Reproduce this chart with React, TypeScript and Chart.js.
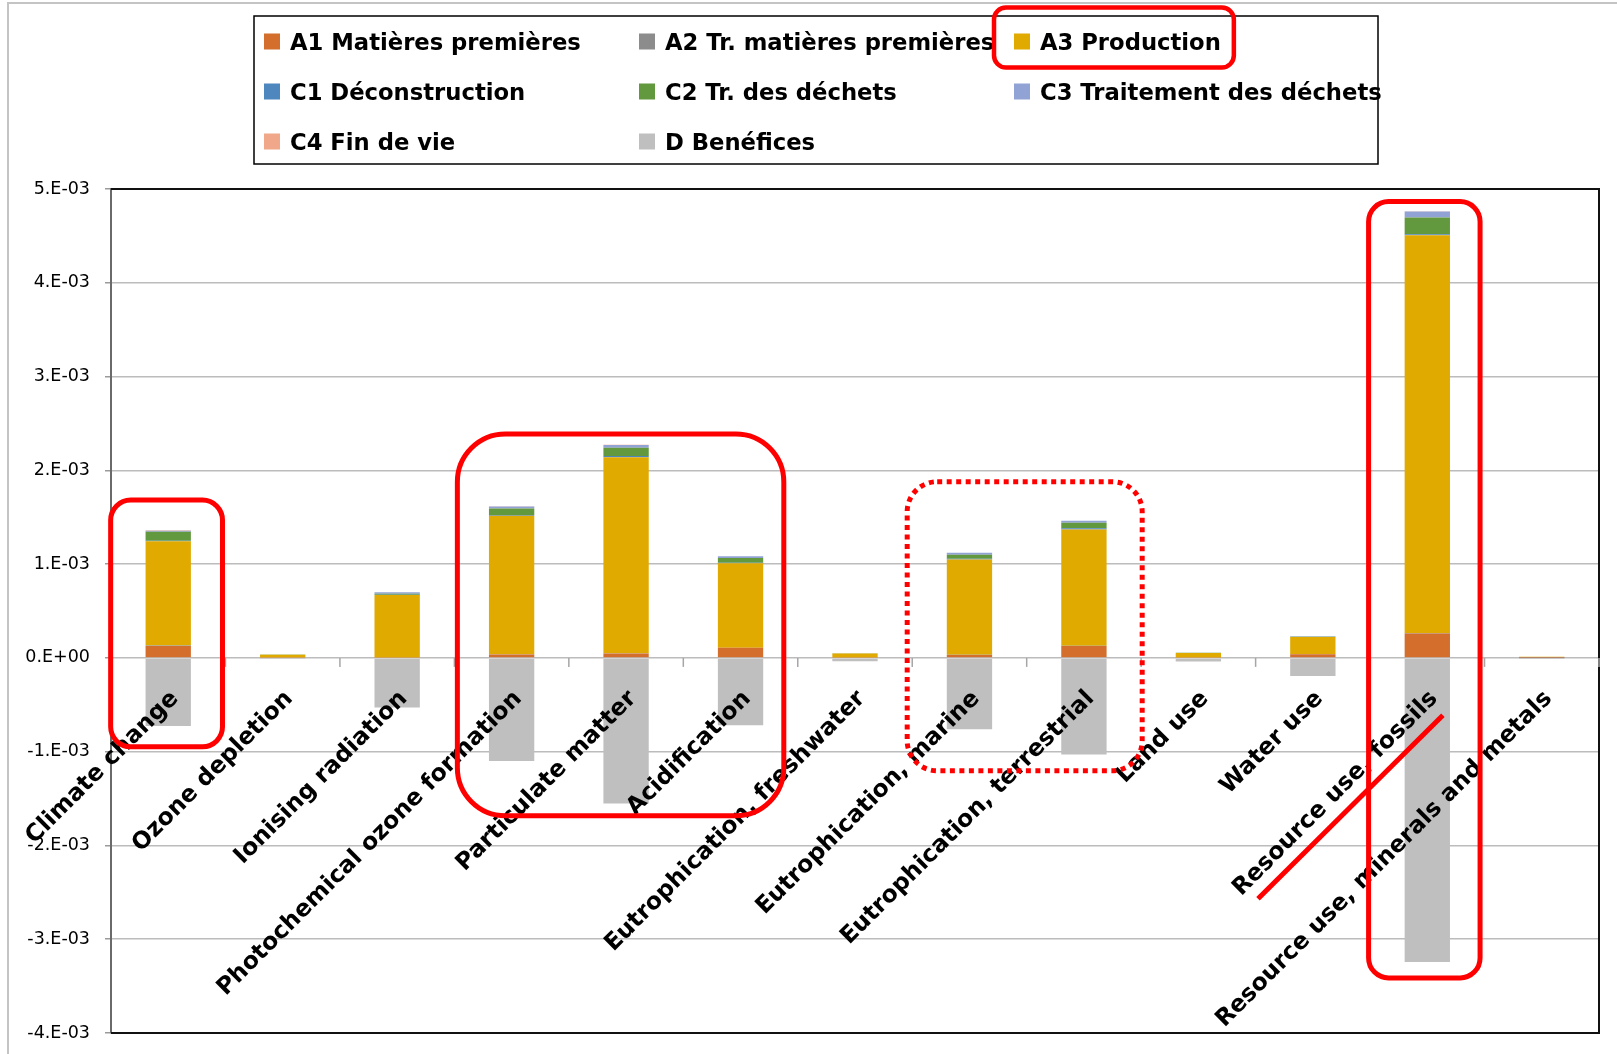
import React, { useEffect, useRef } from "react";
import { Chart, registerables } from "chart.js";

Chart.register(...registerables);

// ---------- DATA ----------
const categories = [
  "Climate change",
  "Ozone depletion",
  "Ionising radiation",
  "Photochemical ozone formation",
  "Particulate matter",
  "Acidification",
  "Eutrophication, freshwater",
  "Eutrophication, marine",
  "Eutrophication, terrestrial",
  "Land use",
  "Water use",
  "Resource use, fossils",
  "Resource use, minerals and metals",
];

const seriesNames = [
  "A1 Matières premières",
  "A2 Tr. matières premières",
  "A3 Production",
  "C1 Déconstruction",
  "C2 Tr. des déchets",
  "C3 Traitement des déchets",
  "C4 Fin de vie",
  "D Benéfices",
];

const seriesColors = [
  "#D46E2C",
  "#8C8C8C",
  "#E0AA00",
  "#4E86BE",
  "#62993E",
  "#91A3D5",
  "#F1A88A",
  "#BFBFBF",
];

const a1Values = [1.28e-4, 3e-6, 4e-6, 3.6e-5, 4.7e-5, 1.07e-4, 4e-6, 3.2e-5, 1.28e-4, 4e-6, 4.0e-5, 2.6e-4, 1e-6];
const a2Values = [5e-6, 0, 1e-6, 2e-6, 2e-6, 2e-6, 0, 2e-6, 2e-6, 0, 1e-6, 5e-6, 8e-6];
const a3Values = [1.112e-3, 3.0e-5, 6.65e-4, 1.478e-3, 2.09e-3, 9.0e-4, 4.3e-5, 1.016e-3, 1.24e-3, 4.8e-5, 1.82e-4, 4.243e-3, 3e-6];
const c1Values = [4e-6, 0, 2e-6, 8e-6, 1.5e-5, 6e-6, 0, 8e-6, 1.2e-5, 0, 1e-6, 1.0e-5, 0];
const c2Values = [9.6e-5, 2e-6, 1.2e-5, 7.0e-5, 8.7e-5, 5.0e-5, 2e-6, 4.2e-5, 5.8e-5, 2e-6, 2e-6, 1.78e-4, 0];
const c3Values = [1.2e-5, 1e-6, 1.6e-5, 2.0e-5, 3.0e-5, 1.8e-5, 1e-6, 2.0e-5, 2.2e-5, 1e-6, 5e-6, 6.4e-5, 0];
const c4Values = [3e-6, 0, 0, 2e-6, 2e-6, 2e-6, 0, 0, 0, 0, 0, 2e-6, 0];
const dValues = [-7.26e-4, -4e-6, -5.3e-4, -1.1e-3, -1.554e-3, -7.18e-4, -3.5e-5, -7.6e-4, -1.03e-3, -3.8e-5, -1.92e-4, -3.244e-3, -2e-6];

const seriesValues = [a1Values, a2Values, a3Values, c1Values, c2Values, c3Values, c4Values, dValues];

const yTickLabels = ["-4.E-03", "-3.E-03", "-2.E-03", "-1.E-03", "0.E+00", "1.E-03", "2.E-03", "3.E-03", "4.E-03", "5.E-03"];
const yTickValues = [-4e-3, -3e-3, -2e-3, -1e-3, 0, 1e-3, 2e-3, 3e-3, 4e-3, 5e-3];

// ---------- LAYOUT / STYLE ----------
const W = 1617;
const H = 1054;
const FONT = '"DejaVu Sans", "Open Sans", sans-serif';

const legendLayout = {
  box: { left: 254, top: 16, right: 1378, bottom: 164 },
  colX: [264, 639, 1014],
  rowBaseline: [49.5, 99.5, 149.5],
  square: 16,
  textGap: 26,
};

// hand-drawn red annotations, expressed in category index / data units
const annotationBoxes = [
  { x1: -0.503, x2: 0.474, y1: 1.683e-3, y2: -0.948e-3, r: 20, dotted: false },
  { x1: 2.526, x2: 5.378, y1: 2.387e-3, y2: -1.684e-3, r: 48, dotted: false },
  { x1: 6.456, x2: 8.509, y1: 1.879e-3, y2: -1.204e-3, r: 30, dotted: true },
  { x1: 10.487, x2: 11.461, y1: 4.866e-3, y2: -3.413e-3, r: 20, dotted: false },
];
const annotationLine = { x1: 9.521, y1: -2.568e-3, x2: 11.136, y2: -0.612e-3 };

const idxToPx = (xs: any, v: number) => {
  const p0 = xs.getPixelForValue(0);
  const p1 = xs.getPixelForValue(1);
  return p0 + (p1 - p0) * v;
};

const overlayPlugin = {
  id: "overlay",
  beforeDraw(chart: any) {
    const ctx = chart.ctx;
    ctx.save();
    ctx.fillStyle = "#ffffff";
    ctx.fillRect(0, 0, chart.width, chart.height);
    ctx.strokeStyle = "#c4c4c4";
    ctx.lineWidth = 2;
    ctx.strokeRect(8, 3, chart.width + 40, chart.height + 40);
    ctx.restore();
  },
  afterDraw(chart: any) {
    const ctx = chart.ctx;
    const area = chart.chartArea;
    const xs = chart.scales.x;
    const ys = chart.scales.y;
    const y0 = ys.getPixelForValue(0);

    ctx.save();
    // plot border (top, right, bottom)
    ctx.strokeStyle = "#111111";
    ctx.lineWidth = 2;
    ctx.beginPath();
    ctx.moveTo(area.left, area.top);
    ctx.lineTo(area.right, area.top);
    ctx.lineTo(area.right, area.bottom);
    ctx.lineTo(area.left, area.bottom);
    ctx.stroke();

    // category tick marks on the zero line
    ctx.strokeStyle = "#a6a6a6";
    ctx.lineWidth = 1.5;
    for (let i = 0; i <= categories.length; i++) {
      const px = idxToPx(xs, i - 0.5);
      ctx.beginPath();
      ctx.moveTo(px, y0);
      ctx.lineTo(px, y0 + 9);
      ctx.stroke();
    }

    // category labels
    ctx.fillStyle = "#000000";
    ctx.font = `bold 23.5px ${FONT}`;
    ctx.textAlign = "right";
    ctx.textBaseline = "alphabetic";
    categories.forEach((c, i) => {
      const px = xs.getPixelForValue(i);
      ctx.save();
      ctx.translate(px + 11, y0 + 41.5);
      ctx.rotate(-Math.PI / 4);
      ctx.fillText(c, 0, 0);
      ctx.restore();
    });

    // legend
    const L = legendLayout;
    ctx.fillStyle = "#ffffff";
    ctx.fillRect(L.box.left, L.box.top, L.box.right - L.box.left, L.box.bottom - L.box.top);
    ctx.strokeStyle = "#000000";
    ctx.lineWidth = 1.5;
    ctx.strokeRect(L.box.left, L.box.top, L.box.right - L.box.left, L.box.bottom - L.box.top);
    ctx.font = `bold 22.7px ${FONT}`;
    ctx.textAlign = "left";
    let a3Box: any = null;
    seriesNames.forEach((name, i) => {
      const col = i % 3;
      const row = Math.floor(i / 3);
      const sx = L.colX[col];
      const base = L.rowBaseline[row];
      ctx.fillStyle = seriesColors[i];
      ctx.fillRect(sx, base - L.square, L.square, L.square);
      ctx.fillStyle = "#000000";
      ctx.fillText(name, sx + L.textGap, base);
      if (i === 2) {
        const w = ctx.measureText(name).width;
        a3Box = { left: sx - 20, right: sx + L.textGap + w + 13, top: base - 42, bottom: base + 18 };
      }
    });

    // red annotations
    ctx.strokeStyle = "#ff0000";
    ctx.lineWidth = 4.5;
    ctx.lineJoin = "round";
    if (a3Box) {
      ctx.beginPath();
      ctx.roundRect(a3Box.left, a3Box.top, a3Box.right - a3Box.left, a3Box.bottom - a3Box.top, 12);
      ctx.stroke();
    }
    annotationBoxes.forEach((b) => {
      const l = idxToPx(xs, b.x1);
      const r = idxToPx(xs, b.x2);
      const t = ys.getPixelForValue(b.y1);
      const bt = ys.getPixelForValue(b.y2);
      ctx.save();
      if (b.dotted) {
        ctx.setLineDash([5, 4.5]);
        ctx.lineCap = "butt";
      }
      ctx.lineWidth = 5;
      ctx.beginPath();
      ctx.roundRect(l, t, r - l, bt - t, b.r);
      ctx.stroke();
      ctx.restore();
    });
    ctx.lineWidth = 5;
    ctx.beginPath();
    ctx.moveTo(idxToPx(xs, annotationLine.x1), ys.getPixelForValue(annotationLine.y1));
    ctx.lineTo(idxToPx(xs, annotationLine.x2), ys.getPixelForValue(annotationLine.y2));
    ctx.stroke();
    ctx.restore();
  },
};

export default function App() {
  const canvasRef = useRef<HTMLCanvasElement | null>(null);

  useEffect(() => {
    const canvas = canvasRef.current;
    if (!canvas) return;
    const chart = new Chart(canvas, {
      type: "bar",
      data: {
        labels: categories,
        datasets: seriesNames.map((name, i) => ({
          label: name,
          data: seriesValues[i],
          backgroundColor: seriesColors[i],
          borderWidth: 0,
          barPercentage: 0.396,
          categoryPercentage: 1,
        })),
      },
      options: {
        responsive: false,
        animation: false,
        devicePixelRatio: 1,
        layout: { padding: { left: 0, top: 189, right: 18, bottom: 21 } },
        plugins: {
          legend: { display: false },
          tooltip: { enabled: false },
          title: { display: false },
        },
        scales: {
          x: {
            stacked: true,
            display: false,
          },
          y: {
            stacked: true,
            min: -4e-3,
            max: 5e-3,
            afterFit: (s: any) => {
              s.width = 111;
              s.paddingTop = 0;
              s.paddingBottom = 0;
            },
            afterBuildTicks: (s: any) => {
              s.ticks = yTickValues.map((v) => ({ value: v }));
            },
            ticks: {
              padding: 15,
              color: "#000000",
              font: { family: FONT, size: 17.5 },
              callback: (_v: any, idx: number) => yTickLabels[idx],
            },
            grid: {
              color: "#bcbcbc",
              lineWidth: 1.5,
              tickLength: 6,
              tickColor: "#9a9a9a",
              drawTicks: true,
            },
            border: { display: true, color: "#6a6a6a", width: 2 },
          },
        },
      },
      plugins: [overlayPlugin],
    });
    return () => chart.destroy();
  }, []);

  return (
    <div style={{ position: "fixed", left: 0, top: 0, width: W, height: H, background: "#fff" }}>
      <canvas ref={canvasRef} width={W} height={H} style={{ width: W, height: H, display: "block" }} />
    </div>
  );
}
